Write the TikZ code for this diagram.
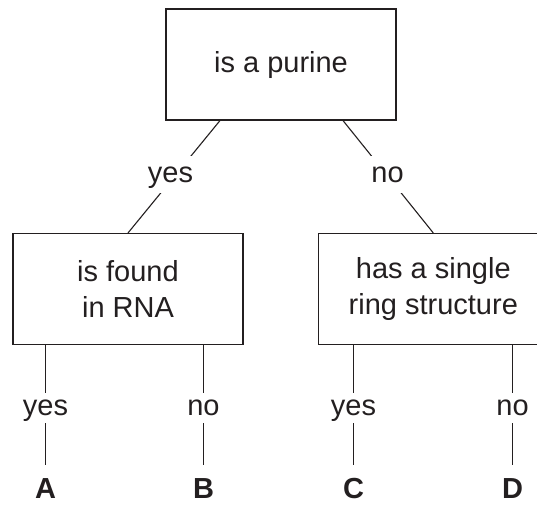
\documentclass[tikz,border=0pt]{standalone}
\usepackage{fontspec}
\setmainfont{Liberation Sans}
\definecolor{ink}{HTML}{231F20}
\begin{document}
\begin{tikzpicture}[x=1pt,y=-1pt, line width=1.1pt, draw=ink, text=ink,
  box/.style={draw=ink, rectangle, minimum width=230pt, minimum height=111pt, inner sep=0pt, align=center, font=\fontsize{29}{36}\selectfont},
  lbl/.style={fill=white, inner ysep=0pt, inner xsep=4pt, text height=21pt, text depth=6pt, font=\fontsize{29}{34}\selectfont},
  leaf/.style={inner xsep=0pt, inner ysep=12pt, text height=20pt, text depth=0pt, font=\fontsize{29}{34}\selectfont\bfseries}]
\useasboundingbox (0,0) rectangle (537,504);
% boxes
\node[box] (top) at (281,64.5) {is a purine};
\node[box] (left) at (128,289) {is found\\in RNA};
\node[box] (right) at (433.3,289) {has a single\\ring structure};
% attachment points on the top box
\coordinate (tL) at ([xshift=-61pt]top.south);
\coordinate (tR) at ([xshift=62pt]top.south);
% top connectors
\draw (tL) -- (left.north);
\draw (tR) -- (right.north);
\node[lbl, minimum height=37pt] (yes1) at (170.5,174.5) {yes};
\node[lbl, minimum height=37pt] (no1) at (387.5,174.5) {no};
% leaves
\node[leaf] (A) at (45.5,488) {A};
\node[leaf] (B) at (203.5,488) {B};
\node[leaf] (C) at (353.5,488) {C};
\node[leaf] (D) at (512.5,488) {D};
% bottom connectors
\draw (A.north |- left.south) -- node[lbl, minimum height=30pt, pos=0.5226] (yesA) {yes} (A.north);
\draw (B.north |- left.south) -- node[lbl, minimum height=30pt, pos=0.5226] (noB) {no} (B.north);
\draw (C.north |- right.south) -- node[lbl, minimum height=30pt, pos=0.5226] (yesC) {yes} (C.north);
\draw (D.north |- right.south) -- node[lbl, minimum height=30pt, pos=0.5226] (noD) {no} (D.north);
\end{tikzpicture}
\end{document}
